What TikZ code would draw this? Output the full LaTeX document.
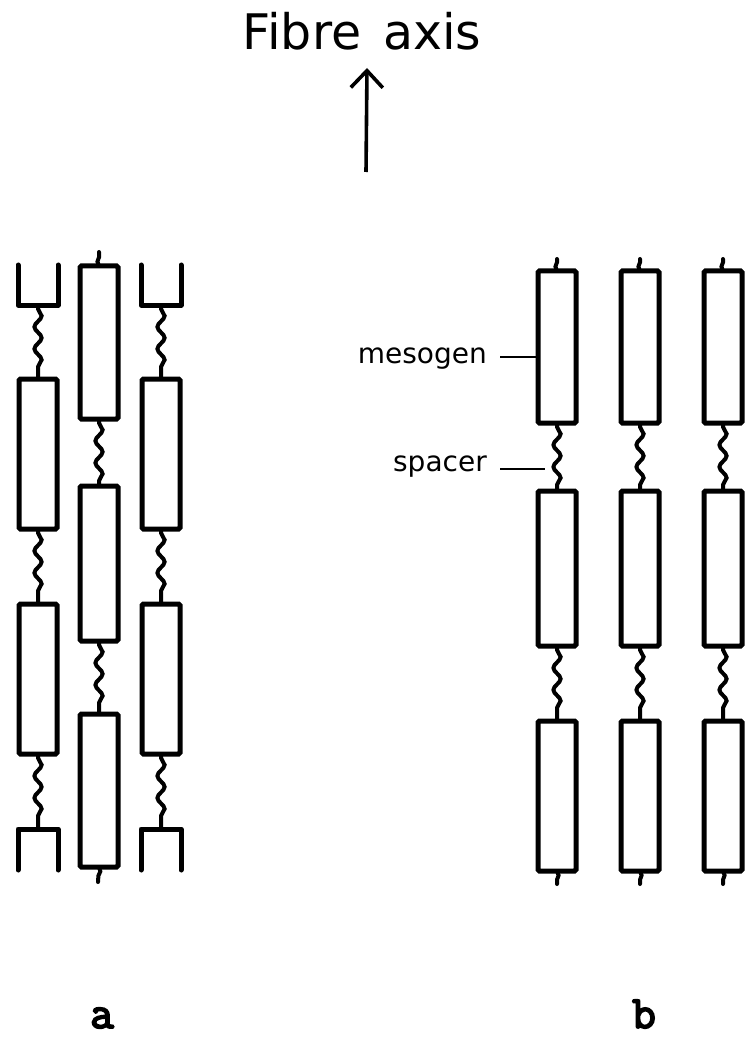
\documentclass[tikz,border=0pt]{standalone}
\usepackage{fontspec}
\setmainfont{DejaVu Sans}
\newfontfamily\panelfont{Latin Modern Mono}[FakeBold=4]
\usetikzlibrary{decorations.pathmorphing,arrows.meta}

\tikzset{
  meso/.style={draw, line width=5pt, rounded corners=1.5pt, minimum width=38pt,
               inner sep=0pt, outer sep=0pt},
  cut/.style={line width=5pt, line join=round, line cap=round},
  spacerline/.style={line width=4pt, decorate,
               decoration={snake, segment length=22pt, amplitude=3.6pt,
                           pre length=4pt, post length=4pt}},
  tail/.style={line width=4pt, line cap=round, decorate,
               decoration={snake, segment length=14pt, amplitude=1.6pt}},
  leader/.style={line width=2.6pt},
  lbl/.style={font=\fontsize{28}{28}\selectfont, inner sep=0pt},
  panel/.style={font=\panelfont\fontsize{46}{46}\selectfont, inner sep=0pt, anchor=base}
}

\begin{document}
\begin{tikzpicture}[x=1pt, y=-1pt]
\useasboundingbox (0,0) rectangle (744,1040);

% ---------- fibre axis ----------
\node[font=\fontsize{49}{49}\selectfont, inner sep=0pt, anchor=base] (title)
  at (362,50) {Fibre\hspace{0.45em}axis};
\coordinate (axfoot) at (366,172);
\coordinate (axtip) at (367,68);
\draw[line width=3.6pt, -{Straight Barb[length=17pt, width=32pt, line width=3.6pt]}]
  (axfoot) -- (axtip);

% ---------- panel a : staggered chains ----------
% outer columns (x = 38 and x = 161)
\foreach \c/\n in {38/L, 161/R}{
  % cut-off mesogens at the top and bottom
  \draw[cut] (\c-20,265) -- (\c-20,305) -- (\c+20,305) -- (\c+20,265);
  \coordinate (\n top) at (\c,305);
  \draw[cut] (\c-20,870) -- (\c-20,829) -- (\c+20,829) -- (\c+20,870);
  \coordinate (\n bot) at (\c,829);
  \node[meso, minimum height=150pt] (\n1) at (\c,454) {};
  \node[meso, minimum height=150pt] (\n2) at (\c,679) {};
  \draw[spacerline] (\n top) -- (\n1.north);
  \draw[spacerline] (\n1.south) -- (\n2.north);
  \draw[spacerline] (\n2.south) -- (\n bot);
}
% middle column (x = 99)
\node[meso, minimum height=153pt] (M1) at (99,342.5) {};
\node[meso, minimum height=155pt] (M2) at (99,563.5) {};
\node[meso, minimum height=153pt] (M3) at (99,790.5) {};
\draw[spacerline] (M1.south) -- (M2.north);
\draw[spacerline] (M2.south) -- (M3.north);
\coordinate (Mtop) at (99,252);
\coordinate (Mbot) at (98,882);
\draw[tail] (M1.north) -- (Mtop);
\draw[tail] (M3.south) -- (Mbot);

% ---------- panel b : aligned chains ----------
\foreach \c/\n in {557/P, 640/Q, 723/S}{
  \node[meso, minimum height=152pt] (\n1) at (\c,347) {};
  \node[meso, minimum height=155pt] (\n2) at (\c,568.5) {};
  \node[meso, minimum height=150pt] (\n3) at (\c,796) {};
  \draw[spacerline] (\n1.south) -- (\n2.north);
  \draw[spacerline] (\n2.south) -- (\n3.north);
  \coordinate (\n top) at (\c,259);
  \coordinate (\n bot) at (\c,884);
  \draw[tail] (\n1.north) -- (\n top);
  \draw[tail] (\n3.south) -- (\n bot);
}

% ---------- labels ----------
\node[lbl, anchor=base east] (meslbl) at (487,363) {mesogen};
\coordinate (mespt) at (537,357);
\draw[leader] ([xshift=13pt]meslbl.base east |- mespt) -- (mespt);
\node[lbl, anchor=base east] (spalbl) at (487,471) {spacer};
\coordinate (spapt) at (545,469);
\draw[leader] ([xshift=13pt]spalbl.base east |- spapt) -- (spapt);

\node[panel] (pa) at (102,1028) {a};
\node[panel] (pb) at (644,1028) {b};
\end{tikzpicture}
\end{document}
